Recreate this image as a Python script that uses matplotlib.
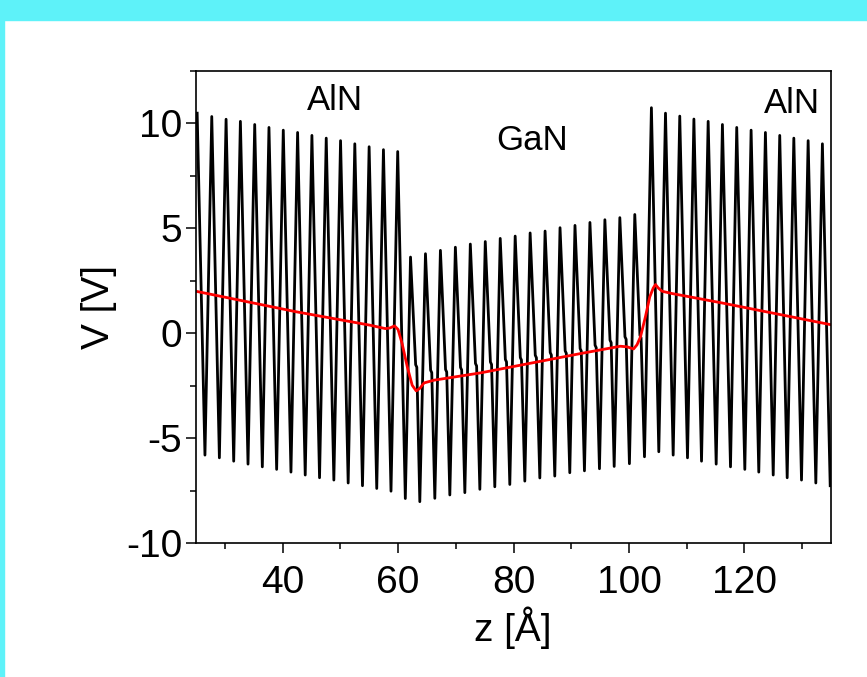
import matplotlib
matplotlib.use("Agg")
import matplotlib.pyplot as plt
from matplotlib.patches import Rectangle
from matplotlib.ticker import MultipleLocator

# black curve: extrema (z in Angstrom, V in volt)
aln_left_peak_z = [25.20, 27.73, 30.21, 32.69, 35.17, 37.64, 40.12, 42.60, 45.08, 47.56, 50.04, 52.51, 54.99, 57.47, 59.94]
aln_left_peak_v = [10.49, 10.33, 10.20, 10.10, 9.95, 9.81, 9.68, 9.57, 9.43, 9.30, 9.18, 9.03, 8.89, 8.75, 8.66]
aln_left_trough_z = [26.55, 29.05, 31.53, 34.01, 36.49, 38.97, 41.45, 43.92, 46.40, 48.88, 51.36, 53.84, 56.31, 58.78, 61.26]
aln_left_trough_v = [-5.81, -5.94, -6.10, -6.24, -6.37, -6.49, -6.62, -6.76, -6.89, -7.00, -7.14, -7.27, -7.40, -7.53, -7.88]

gan_peak_z = [62.16, 64.75, 67.34, 69.93, 72.52, 75.11, 77.70, 80.29, 82.88, 85.47, 88.06, 90.65, 93.24, 95.83, 98.42, 101.01]
gan_peak_v = [3.63, 3.79, 3.95, 4.10, 4.25, 4.37, 4.52, 4.63, 4.78, 4.87, 5.03, 5.14, 5.28, 5.41, 5.51, 5.66]
gan_shoulder_z = [63.05, 65.64, 68.23, 70.82, 73.41, 76.00, 78.59, 81.18, 83.77, 86.36, 88.95, 91.54, 94.13, 96.72, 99.31, 101.90]
gan_shoulder_v = [-1.50, -1.76, -1.73, -1.63, -1.44, -1.37, -1.25, -1.16, -1.05, -0.92, -0.84, -0.73, -0.57, -0.33, -0.17, -0.10]
gan_trough_z = [63.77, 66.37, 68.97, 71.57, 74.17, 76.76, 79.36, 81.96, 84.56, 87.15, 89.75, 92.29, 94.89, 97.44, 100.08, 102.69]
gan_trough_v = [-8.03, -7.87, -7.71, -7.60, -7.44, -7.32, -7.21, -7.05, -6.90, -6.81, -6.65, -6.56, -6.46, -6.35, -6.22, -5.89]

aln_right_peak_z = [103.89, 106.33, 108.80, 111.25, 113.72, 116.19, 118.67, 121.16, 123.64, 126.12, 128.56, 131.04, 133.51]
aln_right_peak_v = [10.75, 10.49, 10.35, 10.21, 10.10, 9.95, 9.81, 9.68, 9.57, 9.43, 9.30, 9.18, 9.03]
aln_right_trough_z = [105.17, 107.66, 110.14, 112.57, 115.11, 117.59, 120.07, 122.49, 124.99, 127.41, 129.89, 132.37, 134.86]
aln_right_trough_v = [-5.65, -5.81, -5.94, -6.10, -6.24, -6.37, -6.49, -6.62, -6.76, -6.89, -7.00, -7.14, -7.27]

# red curve: averaged potential
avg_z = [25.0, 42.4, 55.2, 57.8, 58.6, 59.4, 60.0, 60.7, 61.6, 62.45, 63.15, 63.8, 64.5, 66.2, 74.3,
         91.6, 98.5, 99.7, 100.8, 101.4, 102.0, 102.85, 103.6, 104.2, 104.6, 105.1, 105.75, 107.5,
         110.6, 115.8, 134.9]
avg_v = [2.00, 1.02, 0.38, 0.22, 0.25, 0.35, 0.18, -0.49, -1.60, -2.48, -2.75, -2.62, -2.37, -2.24, -1.89,
         -0.97, -0.62, -0.65, -0.75, -0.55, -0.17, 0.78, 1.73, 2.15, 2.32, 2.15, 2.00, 1.89,
         1.73, 1.46, 0.41]

labels = [("AlN", 49.1, 11.1), ("GaN", 83.2, 9.2), ("AlN", 128.3, 10.95)]

# join all extrema in z order (shoulder drawn as a small flat step)
pts = list(zip(aln_left_peak_z, aln_left_peak_v)) + list(zip(aln_left_trough_z, aln_left_trough_v))
pts += list(zip(gan_peak_z, gan_peak_v)) + list(zip(gan_trough_z, gan_trough_v))
pts += list(zip(gan_shoulder_z, gan_shoulder_v))
pts += [(z + 0.2, v - 0.12) for z, v in zip(gan_shoulder_z, gan_shoulder_v)]
pts += list(zip(aln_right_peak_z, aln_right_peak_v)) + list(zip(aln_right_trough_z, aln_right_trough_v))
pts.sort()
line_z = [p[0] for p in pts]
line_v = [p[1] for p in pts]

plt.rcParams['font.family'] = ['Liberation Sans', 'DejaVu Sans']
plt.rcParams['axes.unicode_minus'] = False
narrow = ['Liberation Sans Narrow', 'Liberation Sans', 'DejaVu Sans']

fig = plt.figure(figsize=(8.67, 6.77), dpi=100, facecolor='white')
cyan = '#5ef2f9'
fig.patches.append(Rectangle((0, 1 - 20 / 677), 1, 20 / 677, transform=fig.transFigure, color=cyan, zorder=0))
fig.patches.append(Rectangle((0, 0), 4 / 867, 1, transform=fig.transFigure, color=cyan, zorder=0))

ax = fig.add_axes([196 / 867, 1 - 543 / 677, 635 / 867, 472 / 677])
ax.plot(line_z, line_v, color='black', lw=2.0, solid_joinstyle='round')
ax.plot(avg_z, avg_v, color='#ff0000', lw=2.0)

ax.set_xlim(25, 135)
ax.set_ylim(-10, 12.5)
ax.xaxis.set_minor_locator(MultipleLocator(10))
ax.yaxis.set_minor_locator(MultipleLocator(2.5))
ax.set_xticks([40, 60, 80, 100, 120])
ax.set_yticks([-10, -5, 0, 5, 10])
ax.tick_params(which='major', length=7, width=1.1, direction='out')
ax.tick_params(which='minor', length=4, width=1.1, direction='out')
ax.tick_params(axis='x', pad=9)
ax.tick_params(axis='y', pad=3)
for lab in ax.get_xticklabels() + ax.get_yticklabels():
    lab.set_family(narrow)
    lab.set_fontsize(28)
for s in ax.spines.values():
    s.set_linewidth(1.2)

ax.set_xlabel('z [Å]', family=narrow, fontsize=28)
ax.set_ylabel('V [V]', family=narrow, fontsize=28)
ax.xaxis.set_label_coords(0.499, -0.135)
ax.yaxis.set_label_coords(-0.125, 0.5)

for txt, z, v in labels:
    ax.text(z, v, txt, fontsize=25, ha='center', va='center')

fig.savefig('out.png', dpi=100, facecolor=fig.get_facecolor())
